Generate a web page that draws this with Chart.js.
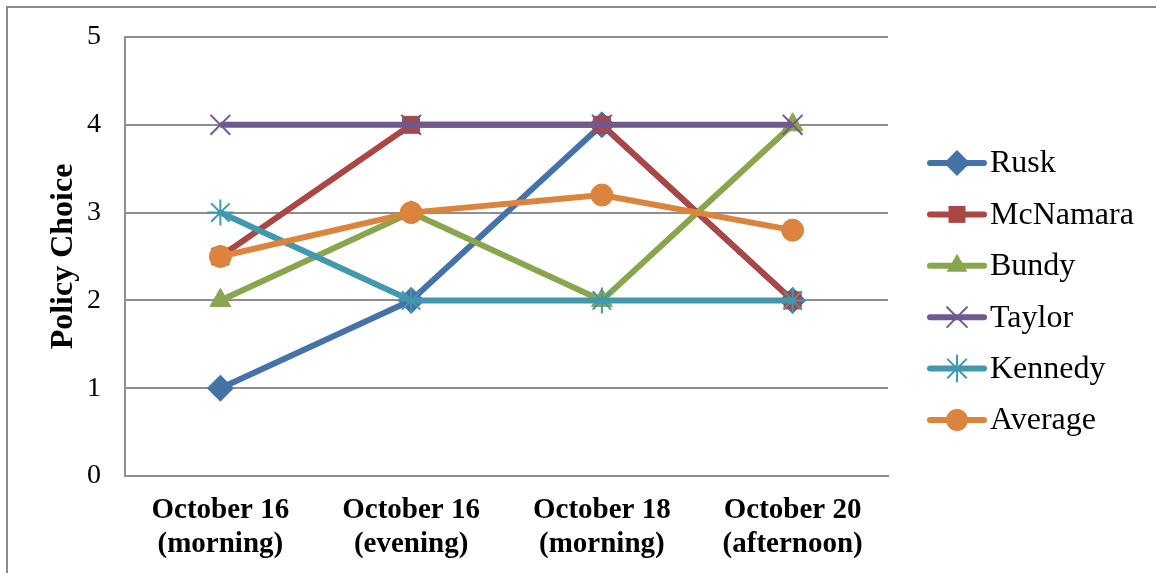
<!DOCTYPE html>
<html>
<head>
<meta charset="utf-8">
<script src="https://cdn.jsdelivr.net/npm/chart.js@4.4.1/dist/chart.umd.min.js"></script>
<style>
  html, body { margin: 0; padding: 0; background: #fff; }
  #wrap { position: relative; width: 1156px; height: 573px; }
</style>
</head>
<body>
<div id="wrap"><canvas id="c" width="1156" height="573"></canvas></div>
<script>
const categories = [["October 16", "(morning)"], ["October 16", "(evening)"], ["October 18", "(morning)"], ["October 20", "(afternoon)"]];
const seriesNames = ["Rusk", "McNamara", "Bundy", "Taylor", "Kennedy", "Average"];
const rusk     = [1, 2, 4, 2];
const mcnamara = [2.5, 4, 4, 2];
const bundy    = [2, 3, 2, 4];
const taylor   = [4, 4, 4, 4];
const kennedy  = [3, 2, 2, 2];
const average  = [2.5, 3, 3.2, 2.8];
const yTicks   = [0, 1, 2, 3, 4, 5];
const yTitle   = "Policy Choice";

const colors  = ["#4572A7", "#AA4643", "#89A54E", "#71588F", "#4198AF", "#DB843D"];
const styles  = ["rectRot", "rect", "triangle", "crossRot", "star", "circle"];
const radii   = [13, 12, 12, 14, 13, 11];
const ptBorder= [1, 1, 1, 2, 2, 1];
const values  = [rusk, mcnamara, bundy, taylor, kennedy, average];

const SERIF = "'Liberation Serif', 'Times New Roman', serif";

const datasets = seriesNames.map((name, i) => ({
  label: name,
  data: values[i],
  borderColor: colors[i],
  backgroundColor: colors[i],
  borderWidth: 6,
  pointStyle: styles[i],
  pointRadius: radii[i],
  pointHoverRadius: radii[i],
  pointBorderWidth: ptBorder[i],
  pointBorderColor: colors[i],
  pointBackgroundColor: colors[i],
  tension: 0,
  fill: false,
  order: seriesNames.length - i
}));

function drawMarker(ctx, style, x, y, r, color, bw) {
  ctx.save();
  ctx.fillStyle = color; ctx.strokeStyle = color; ctx.lineWidth = bw;
  ctx.beginPath();
  if (style === 'rectRot') {
    ctx.moveTo(x, y - r); ctx.lineTo(x + r, y); ctx.lineTo(x, y + r); ctx.lineTo(x - r, y); ctx.closePath(); ctx.fill();
  } else if (style === 'rect') {
    const s = r * Math.SQRT1_2; ctx.rect(x - s, y - s, 2 * s, 2 * s); ctx.fill();
  } else if (style === 'triangle') {
    ctx.moveTo(x, y - r); ctx.lineTo(x + r * 0.866, y + r * 0.5); ctx.lineTo(x - r * 0.866, y + r * 0.5); ctx.closePath(); ctx.fill();
  } else if (style === 'crossRot') {
    const s = r * Math.SQRT1_2;
    ctx.moveTo(x - s, y - s); ctx.lineTo(x + s, y + s); ctx.moveTo(x + s, y - s); ctx.lineTo(x - s, y + s); ctx.stroke();
  } else if (style === 'star') {
    const s = r * Math.SQRT1_2;
    ctx.moveTo(x - s, y - s); ctx.lineTo(x + s, y + s); ctx.moveTo(x + s, y - s); ctx.lineTo(x - s, y + s);
    ctx.moveTo(x, y - r); ctx.lineTo(x, y + r); ctx.moveTo(x - r, y); ctx.lineTo(x + r, y); ctx.stroke();
  } else {
    ctx.arc(x, y, r, 0, Math.PI * 2); ctx.fill();
  }
  ctx.restore();
}

const framePlugin = {
  id: 'frame',
  beforeDraw(chart) {
    const ctx = chart.ctx;
    ctx.save();
    ctx.strokeStyle = '#8a8a8a';
    ctx.lineWidth = 2;
    ctx.beginPath();
    ctx.moveTo(7, 573); ctx.lineTo(7, 7); ctx.lineTo(1156, 7);
    ctx.stroke();
    ctx.restore();
  },
  afterDraw(chart) {
    const ctx = chart.ctx;
    const ca = chart.chartArea;
    const x0 = ca.right + 42;
    const rowH = 51.4;
    const n = chart.data.datasets.length;
    const yc = 291.5;
    ctx.save();
    ctx.font = "32px " + SERIF;
    ctx.textBaseline = 'middle';
    ctx.fillStyle = '#000';
    chart.data.datasets.forEach((ds, i) => {
      const y = yc + (i - (n - 1) / 2) * rowH;
      ctx.strokeStyle = ds.borderColor;
      ctx.lineWidth = 6;
      ctx.lineCap = 'round';
      ctx.beginPath(); ctx.moveTo(x0, y); ctx.lineTo(x0 + 54, y); ctx.stroke();
      drawMarker(ctx, ds.pointStyle, x0 + 27, y, ds.pointRadius, ds.borderColor, ds.pointBorderWidth);
      ctx.fillStyle = '#000';
      ctx.fillText(ds.label, x0 + 60, y + 1);
    });
    ctx.restore();
  }
};

new Chart(document.getElementById('c'), {
  type: 'line',
  data: { labels: categories, datasets },
  plugins: [framePlugin],
  options: {
    responsive: false,
    animation: false,
    devicePixelRatio: 1,
    layout: { padding: { left: 7, right: 268, top: 37, bottom: 0 } },
    plugins: { legend: { display: false }, tooltip: { enabled: false } },
    scales: {
      x: {
        offset: true,
        grid: { display: false, drawTicks: false },
        border: { display: true, color: '#8f8f8f', width: 2 },
        ticks: { color: '#000', font: { family: SERIF, size: 29, weight: 'bold', lineHeight: 1.17 }, padding: 18, maxRotation: 0, autoSkip: false },
        afterFit(s) { s.height = 97; }
      },
      y: {
        min: 0, max: 5,
        afterBuildTicks(s) { s.ticks = yTicks.map(v => ({ value: v })); },
        grid: { color: '#8f8f8f', lineWidth: 2, drawTicks: false },
        border: { display: true, color: '#8f8f8f', width: 2 },
        ticks: { color: '#000', font: { family: SERIF, size: 28 }, padding: 24 },
        title: { display: true, text: yTitle, color: '#000', font: { family: SERIF, size: 32, weight: 'bold' }, padding: { top: 38, bottom: 0 } },
        afterFit(s) { s.width = 118; s.paddingTop = 0; s.paddingBottom = 0; }
      }
    }
  }
});
</script>
</body>
</html>
